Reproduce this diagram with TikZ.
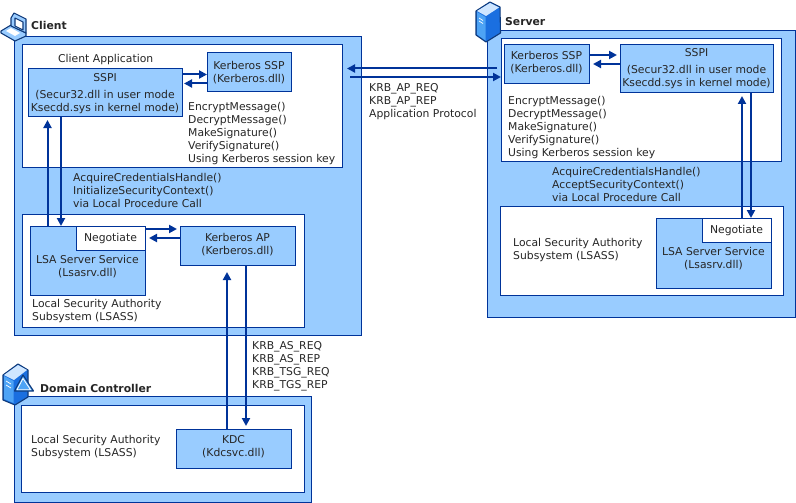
\documentclass[tikz,border=0pt]{standalone}
\usepackage{fontspec}
\setmainfont{DejaVu Sans}
\usetikzlibrary{arrows.meta}
\definecolor{pale}{HTML}{99CCFF}
\definecolor{edge}{HTML}{003399}
\definecolor{icondark}{HTML}{0F3A7A}
\definecolor{iconside}{HTML}{1A6FE0}
\definecolor{iconlight}{HTML}{4DA3F5}
\definecolor{icontop}{HTML}{CFE6FF}
\tikzset{
  panel/.style={draw=edge,line width=1pt,fill=white,inner sep=0pt,anchor=north west},
  outer/.style={panel,fill=pale},
  blue/.style={panel,fill=pale},
  txt/.style={inner sep=0pt,font=\fontsize{10.8}{13}\selectfont,text=black!85},
  ltxt/.style={txt,align=left,anchor=north west},
  ctxt/.style={txt,align=center,anchor=north},
  head/.style={inner sep=0pt,anchor=west,font=\fontsize{10.8}{13}\selectfont\bfseries,text=black!85},
  link/.style={draw=edge,line width=2pt,-{Triangle[length=8pt,width=8pt]}},
  iconline/.style={draw=icondark,line width=1.1pt,line join=round},
}
\newcommand{\rbox}[6]{\node[#6,minimum width=#4pt-#2pt,minimum height=#5pt-#3pt] (#1) at (#2,#3) {};}
\begin{document}
\begin{tikzpicture}[x=1pt,y=-1pt]
\useasboundingbox (0,0) rectangle (796,503);
% outer panels
\rbox{client}{14}{36}{360.5}{335}{outer}
\rbox{server}{487}{30}{795}{317}{outer}
\rbox{dc}{14}{396}{311}{502}{outer}
% white panels
\rbox{capp}{22}{44}{342}{167}{panel}
\rbox{clsass}{22}{214}{304}{326.5}{panel}
\rbox{sapp}{501}{38}{781}{161}{panel}
\rbox{slsass}{500}{206}{783}{295}{panel}
\rbox{dlsass}{21}{405}{304}{492}{panel}
% blue boxes
\rbox{csspi}{28}{68}{182}{116}{blue}
\rbox{cssp}{207}{52}{291}{91}{blue}
\rbox{clsa}{30}{226}{145}{295}{blue}
\rbox{cneg}{76}{226}{145}{250}{panel}
\rbox{cap}{180}{226}{295}{265}{blue}
\rbox{kdc}{176}{429}{291}{468}{blue}
\rbox{sssp}{504}{44}{589}{83}{blue}
\rbox{ssspi}{620}{44}{773}{92}{blue}
\rbox{slsa}{656}{218}{771}{288}{blue}
\rbox{sneg}{702}{218}{771}{242}{panel}
% box texts
\node[ctxt] (t1) at (105,73) {SSPI};
\node[ctxt] (t2) at (105,90.5) {(Secur32.dll in user mode\\Ksecdd.sys in kernel mode)};
\node[ctxt] (t3) at (249,61) {Kerberos SSP\\(Kerberos.dll)};
\node[ctxt] (t4) at (110.5,233) {Negotiate};
\node[ctxt] (t5) at (87.5,255) {LSA Server Service\\(Lsasrv.dll)};
\node[ctxt] (t6) at (237.5,233) {Kerberos AP\\(Kerberos.dll)};
\node[ctxt] (t7) at (233.5,435.5) {KDC\\(Kdcsvc.dll)};
\node[ctxt] (t8) at (546.5,51) {Kerberos SSP\\(Kerberos.dll)};
\node[ctxt] (t9) at (696.5,48) {SSPI};
\node[ctxt] (t10) at (696.5,65.5) {(Secur32.dll in user mode\\Ksecdd.sys in kernel mode)};
\node[ctxt] (t11) at (736.5,225) {Negotiate};
\node[ctxt] (t12) at (713.5,247) {LSA Server Service\\(Lsasrv.dll)};
% free texts
\node[ltxt] (a1) at (58,54) {Client Application};
\node[ltxt] (a2) at (188,102) {EncryptMessage()\\DecryptMessage()\\MakeSignature()\\VerifySignature()\\Using Kerberos session key};
\node[ltxt] (a3) at (73,173) {AcquireCredentialsHandle()\\InitializeSecurityContext()\\via Local Procedure Call};
\node[ltxt] (a4) at (32,299) {Local Security Authority\\Subsystem (LSASS)};
\node[ltxt] (a5) at (369,83) {KRB\_AP\_REQ\\KRB\_AP\_REP\\Application Protocol};
\node[ltxt] (a6) at (508,96) {EncryptMessage()\\DecryptMessage()\\MakeSignature()\\VerifySignature()\\Using Kerberos session key};
\node[ltxt] (a7) at (552,167) {AcquireCredentialsHandle()\\AcceptSecurityContext()\\via Local Procedure Call};
\node[ltxt] (a8) at (513,238) {Local Security Authority\\Subsystem (LSASS)};
\node[ltxt] (a9) at (252,341.5) {KRB\_AS\_REQ\\KRB\_AS\_REP\\KRB\_TSG\_REQ\\KRB\_TGS\_REP};
\node[ltxt] (a10) at (31,435) {Local Security Authority\\Subsystem (LSASS)};
% headings
\node[head] (h1) at (31,25) {Client};
\node[head] (h2) at (505,22) {Server};
\node[head] (h3) at (40,388) {Domain Controller};
% connectors
\draw[link] ([yshift=-6.5pt]csspi.north east) -- ([yshift=-22.5pt]cssp.north west);
\draw[link] ([yshift=-31.5pt]cssp.north west) -- ([xshift=1pt,yshift=-15.5pt]csspi.north east);
\draw[link] ([xshift=17.5pt]clsa.north west) -- ([xshift=19.5pt,yshift=-3pt]csspi.south west);
\draw[link] ([xshift=33pt]csspi.south west) -- ([xshift=31pt]clsa.north west);
\draw[link] ([yshift=-3pt]cneg.north east) -- ([xshift=-3pt,yshift=-3pt]cap.north west);
\draw[link] ([yshift=-12pt]cap.north west) -- ([xshift=3pt,yshift=-12pt]cneg.north east);
\draw[link] ([xshift=51pt]kdc.north west) -- ([xshift=47pt,yshift=-6pt]cap.south west);
\draw[link] ([xshift=66pt]cap.south west) -- ([xshift=70pt,yshift=3pt]kdc.north west);
\draw[link] ([xshift=-4pt,yshift=-30.5pt]sapp.north west) -- ([xshift=4pt,yshift=-24.5pt]capp.north east);
\draw[link] ([xshift=7pt,yshift=-33pt]capp.north east) -- ([yshift=-39pt]sapp.north west);
\draw[link] ([yshift=-11pt]sssp.north east) -- ([xshift=-3pt,yshift=-11pt]ssspi.north west);
\draw[link] ([yshift=-20pt]ssspi.north west) -- ([xshift=3pt,yshift=-20pt]sssp.north east);
\draw[link] ([xshift=40pt]sneg.north west) -- ([xshift=122pt,yshift=-3pt]ssspi.south west);
\draw[link] ([xshift=131pt]ssspi.south west) -- ([xshift=49pt]sneg.north west);
% laptop icon
\filldraw[iconline,fill=pale] (1,31) -- (11,25) -- (26,33) -- (26,36) -- (15,41) -- (1,33) -- cycle;
\filldraw[iconline,fill=pale] (11,26) -- (11,18) -- (14,13) -- (26,19) -- (26,33) -- cycle;
\filldraw[iconline,fill=white] (15,18) -- (23,22) -- (23,30) -- (15,26) -- cycle;
\fill[white] (6,31) -- (11,28) -- (20,33) -- (15,36) -- cycle;
% server icon
\filldraw[iconline,fill=iconside] (476,11) -- (490,2) -- (500,7) -- (500.5,33) -- (486,42) -- (476,35) -- cycle;
\fill[icontop] (477,11) -- (490,3) -- (499,7.5) -- (486,16) -- cycle;
\fill[iconlight] (477,12) -- (485.5,17) -- (485.5,40.5) -- (477,34.5) -- cycle;
\draw[white,line width=0.7pt] (479,18) -- (483,20.5) (479,21) -- (483,23.5);
% domain controller icon
\filldraw[iconline,fill=iconside] (3,375) -- (18,364) -- (28,370) -- (28,397) -- (15,405) -- (3,400) -- cycle;
\fill[icontop] (4,375) -- (18,365) -- (27,370) -- (14,380) -- cycle;
\fill[iconlight] (4,376) -- (13.5,381) -- (13.5,403) -- (4,399) -- cycle;
\draw[white,line width=0.7pt] (6,381) -- (11,384) (6,385) -- (11,388);
\filldraw[iconline,fill=iconlight] (23,375) -- (33.5,391) -- (14.5,391) -- cycle;
\draw[white,line width=0.8pt,line join=round] (23,378.5) -- (30.5,389.7) -- (17,389.7) -- cycle;
\end{tikzpicture}
\end{document}
